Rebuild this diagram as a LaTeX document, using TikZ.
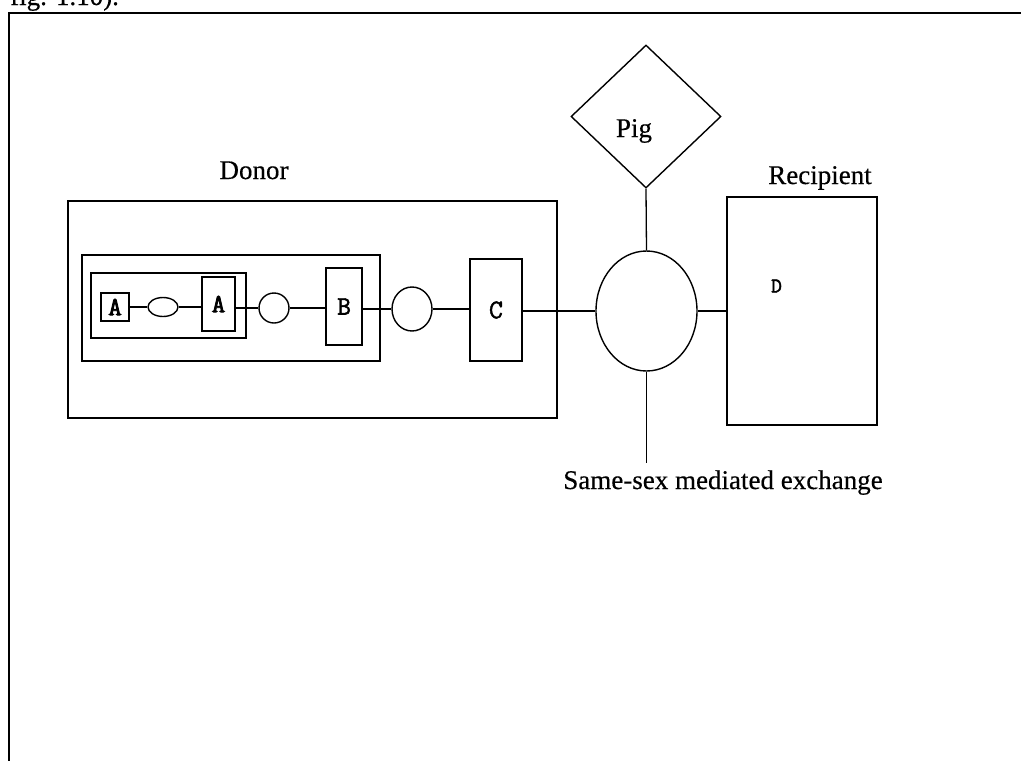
\documentclass[tikz,border=0pt]{standalone}
\usepackage{fontspec}
\setmainfont{Liberation Serif}[FakeBold=0.4]
\newfontfamily\slab{Latin Modern Mono}[FakeBold=1.8]
\newfontfamily\slabheavy{Latin Modern Mono}[FakeBold=3.2]
\usetikzlibrary{shapes.geometric}
\begin{document}
\begin{tikzpicture}[x=1pt,y=-1pt,
  box/.style={draw,rectangle,inner sep=0pt,line width=1.5pt},
  oval/.style={draw,ellipse,inner sep=0pt,line width=1.4pt},
  lbl/.style={font=\fontsize{27}{30}\selectfont,inner sep=0pt},
  letter/.style={font=\slab\fontsize{27}{29}\selectfont,inner sep=0pt},
  bletter/.style={font=\slabheavy\fontsize{26}{28}\selectfont,inner sep=0pt},
  link/.style={draw,line width=1.3pt}]
\useasboundingbox (0,0) rectangle (1021,761);
\fill[white] (0,0) rectangle (1021,761);
% caption (cut off at top)
\node[lbl,anchor=base west] (cap) at (10,5) {fig. 1.10).};
% frame
\draw[line width=1.5pt] (1030,13) -- (9,13) -- (9,770);
% donor boxes
\node[box,minimum width=489pt,minimum height=217pt] (donor) at (312.5,309.5) {};
\node[box,minimum width=298pt,minimum height=106pt] (mid) at (231,308) {};
\node[box,minimum width=155pt,minimum height=65pt] (inner) at (168.5,305.5) {};
\node[lbl,anchor=base] (donorlbl) at (254,179) {Donor};
% chain
\node[box,minimum width=28pt,minimum height=28pt,bletter] (A1) at (115,307) {A};
\node[oval,minimum width=30pt,minimum height=19pt] (e1) at (163,307) {};
\node[box,minimum width=33pt,minimum height=54pt,bletter] (A2) at (218.5,304) {A};
\node[oval,minimum width=30pt,minimum height=30pt] (c1) at (274,308) {};
\node[box,minimum width=36pt,minimum height=77pt,letter] (B) at (344,306.5) {B};
\node[oval,minimum width=40pt,minimum height=44pt] (c2) at (412,309) {};
\node[box,minimum width=52pt,minimum height=102pt,letter] (C) at (496,310) {C};
% central exchange
\node[oval,minimum width=101pt,minimum height=120pt] (big) at (646.5,311) {};
\node[draw,diamond,line width=1.4pt,inner sep=0pt,minimum width=150pt,minimum height=143pt] (pig) at (646,116.5) {};
\node[lbl,anchor=base] (piglbl) at (634,137) {Pig};
% recipient
\node[box,minimum width=150pt,minimum height=228pt] (rec) at (802,311) {};
\node[lbl,anchor=base] (reclbl) at (820,184) {Recipient};
\node[letter,font=\slab\fontsize{21}{23}\selectfont] (D) at (776.5,286) {D};
% same-sex label
\coordinate (ssend) at (646.5,463);
\node[lbl,anchor=base] (sslbl) at (723,489) {Same-sex mediated exchange};
% connectors
\path[link] (A1.east) -- (e1.west);
\path[link] (e1.east) -- (e1.east -| A2.west);
\path[link] (A2.east |- c1.west) -- (c1.west);
\path[link] (c1.east) -- (c1.east -| B.west);
\path[link] (B.east |- c2.west) -- (c2.west);
\path[link] (c2.east) -- (c2.east -| C.west);
\path[link] (C.east |- big.west) -- (big.west);
\path[link] (big.east) -- (big.east -| rec.west);
\path[link] (pig.south) -- (big.north);
\path[link] (big.south) -- (ssend);
\end{tikzpicture}
\end{document}
